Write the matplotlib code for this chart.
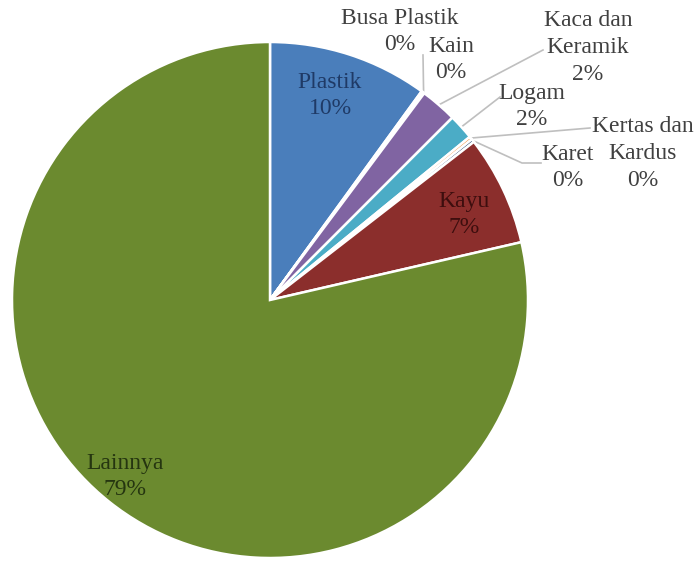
import numpy as np
import matplotlib
matplotlib.use("Agg")
import matplotlib.pyplot as plt
from matplotlib import font_manager

categories = ["Plastik", "Busa Plastik", "Kain", "Kaca dan\nKeramik", "Logam",
              "Kertas dan\nKardus", "Karet", "Kayu", "Lainnya"]
values = [10.0, 0.1, 0.1, 2.3, 1.6, 0.2, 0.2, 6.9, 78.6]
colors = ["#4A7EBB", "#C0504D", "#9BBB59", "#8064A2", "#4BACC6",
          "#F79646", "#2C4D75", "#8B2E2C", "#6B8A2F"]

W, H = 696, 572
fig = plt.figure(figsize=(W / 100, H / 100), dpi=100)
ax = fig.add_axes([0, 0, 1, 1])

def Y(y):
    return H - y

cx, cy, R = 270, Y(300), 258
wedges, _ = ax.pie(values, colors=colors, startangle=90, counterclock=False,
                   center=(cx, cy), radius=R, frame=True,
                   wedgeprops=dict(edgecolor="white", linewidth=1.8))
ax.set_xlim(0, W)
ax.set_ylim(0, H)
ax.set_aspect("equal")
ax.axis("off")

serif_path = font_manager.findfont("Liberation Serif")
fp = font_manager.FontProperties(fname=serif_path, size=17)
LINE = 26.5

def pct(v):
    return f"{round(v):.0f}%"

def put_label(i, x, y_first, color):
    lines = categories[i].split("\n") + [pct(values[i])]
    for k, s in enumerate(lines):
        ax.text(x, Y(y_first + k * LINE), s, color=color, fontproperties=fp,
                ha="center", va="center")

# inside labels
inside = {0: ((330, 82), "#1F3A66"), 7: ((464, 201), "#3D0E0E"), 8: ((125, 463), "#253510")}
for i, ((x, y), c) in inside.items():
    put_label(i, x, y, c)

# outside labels
outside = {1: (400, 18), 2: (451, 46), 3: (588, 21), 4: (532, 93), 5: (643, 127), 6: (568, 154)}
for i, (x, y) in outside.items():
    put_label(i, x, y, "#404040")

def edge_point(i, frac=1.0):
    w = wedges[i]
    t = np.deg2rad((w.theta1 + w.theta2) / 2)
    return cx + R * frac * np.cos(t), cy + R * frac * np.sin(t)

leaders = {2: [(423, 55)], 3: [(543, 50)], 4: [(500, 97)], 5: [(590, 128)],
           6: [(541, 163), (522, 163)]}
for i, pts in leaders.items():
    xs = [p[0] for p in pts]
    ys = [Y(p[1]) for p in pts]
    ex, ey = edge_point(i)
    xs.append(ex)
    ys.append(ey)
    ax.plot(xs, ys, color="#BFBFBF", lw=1.2, zorder=0.5)

fig.savefig("out.png", dpi=100)
